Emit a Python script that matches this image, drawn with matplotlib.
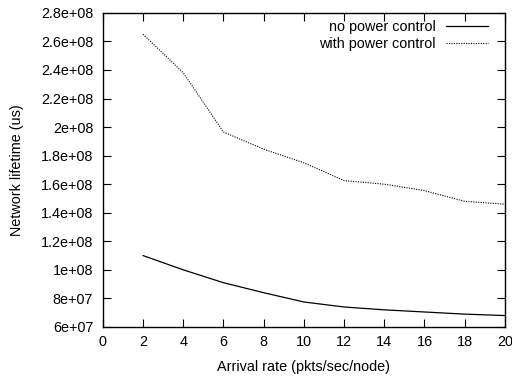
import numpy as np
import matplotlib
matplotlib.use('Agg')
import matplotlib.pyplot as plt

plt.rcParams['font.family'] = ['Liberation Sans', 'DejaVu Sans']

# data
rate = [2, 4, 6, 8, 10, 12, 14, 16, 18, 20]
no_pc = [1.10e8, 1.00e8, 0.91e8, 0.84e8, 0.775e8, 0.74e8, 0.72e8, 0.705e8, 0.69e8, 0.68e8]
with_pc = [2.65e8, 2.38e8, 1.965e8, 1.845e8, 1.75e8, 1.625e8, 1.60e8, 1.555e8, 1.48e8, 1.46e8]

yticks = np.arange(6e7, 2.81e8, 2e7)
ytick_labels = ['6e+07', '8e+07', '1e+08', '1.2e+08', '1.4e+08', '1.6e+08',
                '1.8e+08', '2e+08', '2.2e+08', '2.4e+08', '2.6e+08', '2.8e+08']

fs = 10.4

fig = plt.figure(figsize=(5.12, 3.78), dpi=100)
ax = fig.add_axes([0.201, 0.135, 0.785, 0.831])

ax.plot(rate, no_pc, '-', color='black', lw=0.9, label='no power control')
ax.plot(rate, with_pc, color='black', lw=0.8, linestyle=(0, (1, 1.2)),
        label='with power control')

ax.set_xlim(0, 20)
ax.set_ylim(6e7, 2.8e8)
ax.set_xticks(range(0, 21, 2))
ax.set_yticks(yticks)
ax.set_yticklabels(ytick_labels)
ax.tick_params(direction='in', length=6, width=0.8, labelsize=fs,
               top=True, right=True)
ax.tick_params(axis='y', pad=7)
ax.tick_params(axis='x', pad=6)
for s in ax.spines.values():
    s.set_linewidth(1.0)

ax.set_xlabel('Arrival rate (pkts/sec/node)', fontsize=fs)
ax.set_ylabel('Network lifetime (us)', fontsize=fs)
ax.xaxis.set_label_coords(0.5, -0.105)
ax.yaxis.set_label_coords(-0.197, 0.5)

ax.legend(loc='upper right', frameon=False, markerfirst=False, fontsize=fs,
          handlelength=2.9, handletextpad=0.7, labelspacing=0.2,
          borderaxespad=0, borderpad=0, bbox_to_anchor=(0.958, 0.976))

plt.savefig('out.png', dpi=100)
